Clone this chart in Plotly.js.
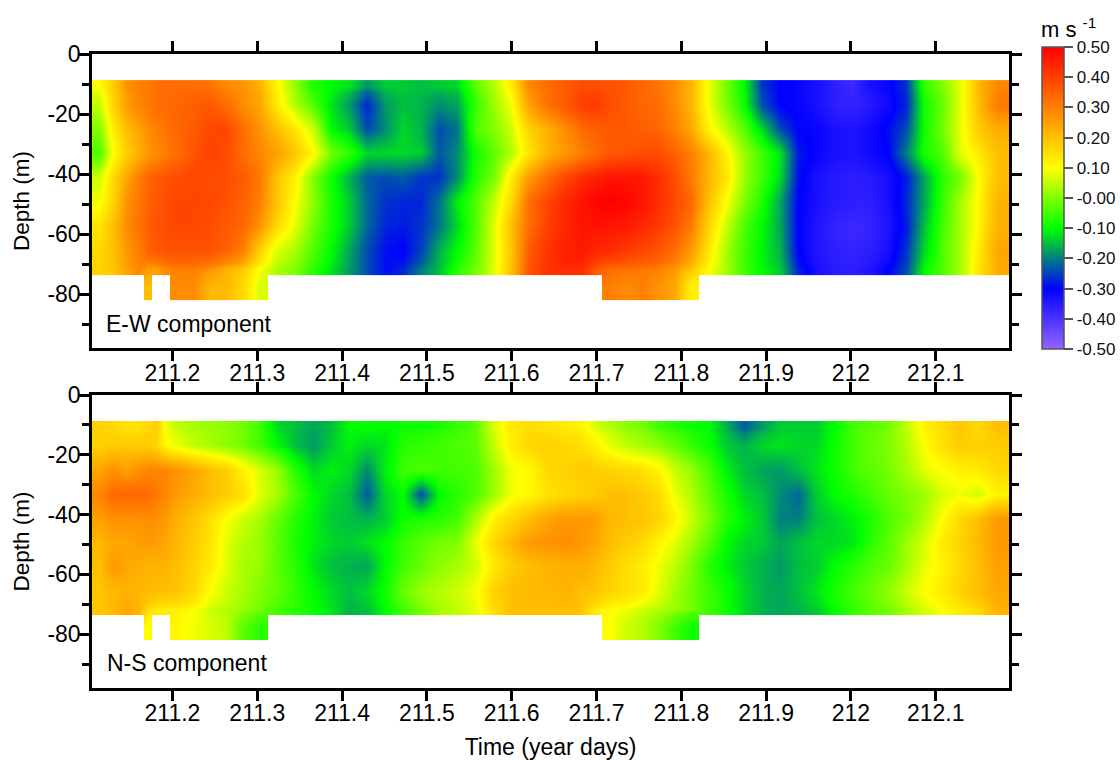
<!DOCTYPE html>
<html><head><meta charset="utf-8">
<script src="https://cdn.plot.ly/plotly-3.0.1.min.js"></script>
<style>html,body{margin:0;padding:0;background:#fff}#c{width:1120px;height:760px}</style>
</head><body><div id="c"></div>
<script>
const xEdges=[211.1051,211.1216,211.1381,211.1522,211.1664,211.1758,211.1864,211.1971,211.2159,211.2348,211.2537,211.2725,211.2926,211.3126,211.3338,211.3551,211.3763,211.3975,211.4188,211.44,211.4612,211.4824,211.5037,211.5249,211.5461,211.5673,211.5886,211.6098,211.631,211.6522,211.6735,211.69,211.7065,211.7254,211.7442,211.7631,211.782,211.8008,211.8209,211.8421,211.8633,211.8846,211.9058,211.927,211.9482,211.9695,211.9907,212.0119,212.0331,212.0544,212.0756,212.0968,212.118,212.1393,212.1605,212.1864];
const depthEdges=[-8.7,-12.8,-20.9,-29,-37,-45,-53,-61,-69.6,-73.7,-82];

const ew09=[.10,.18,.27,.30,.31,.32,.33,.33,.33,.32,.28,.27,.22,.11,.01,-.08,-.10,-.12,-.18,-.14,-.14,-.15,-.14,-.13,-.03,.04,.13,.29,.33,.36,.38,.38,.37,.36,.34,.32,.28,.22,.09,-.01,-.10,-.26,-.30,-.31,-.33,-.36,-.38,-.33,-.31,-.26,-.06,0,.08,.21,.29];
const ew17=[.05,.17,.25,.29,.31,.33,.33,.34,.35,.36,.33,.28,.24,.13,.04,-.04,-.12,-.18,-.27,-.18,-.15,-.16,-.19,-.17,-.06,.02,.09,.25,.32,.36,.40,.41,.38,.36,.34,.33,.28,.22,.09,0,-.09,-.24,-.30,-.31,-.33,-.36,-.37,-.35,-.32,-.27,-.09,-.02,.08,.20,.31];
const ew25=[0,.13,.2,.24,.28,.30,.32,.34,.36,.39,.39,.33,.27,.2,.14,.06,-.1,-.14,-.24,-.19,-.13,-.16,-.24,-.21,-.04,0,.06,.17,.22,.28,.33,.35,.36,.36,.35,.34,.30,.24,.12,.05,-.03,-.13,-.24,-.3,-.31,-.33,-.34,-.32,-.29,-.24,-.09,-.01,.08,.18,.23];
const ew33=[-.04,.1,.17,.22,.26,.28,.3,.33,.37,.4,.38,.33,.29,.25,.19,.11,-.01,-.06,-.13,-.13,-.13,-.14,-.23,-.19,-.09,-.03,.04,.14,.22,.26,.3,.33,.36,.37,.38,.38,.35,.3,.22,.12,.02,-.05,-.12,-.28,-.31,-.33,-.34,-.32,-.3,-.2,-.08,-.04,.08,.13,.2];
const ew41=[.06,.16,.24,.3,.34,.36,.37,.38,.39,.38,.38,.36,.31,.19,.12,0,-.09,-.16,-.23,-.24,-.23,-.26,-.26,-.19,-.07,-.01,.13,.26,.33,.39,.43,.45,.47,.47,.46,.43,.38,.31,.22,.14,.02,-.05,-.13,-.29,-.33,-.35,-.36,-.35,-.33,-.28,-.17,-.07,-.01,.1,.2];
const ew49=[.09,.17,.27,.31,.35,.36,.38,.39,.39,.39,.37,.35,.3,.19,.1,.01,-.08,-.14,-.22,-.26,-.27,-.27,-.21,-.11,-.04,.05,.16,.33,.39,.44,.47,.49,.5,.49,.47,.43,.39,.34,.2,.1,0,-.08,-.17,-.3,-.33,-.35,-.36,-.36,-.33,-.27,-.17,-.06,.03,.11,.22];
const ew57=[.14,.2,.28,.32,.35,.37,.38,.39,.39,.38,.36,.34,.27,.16,.08,-.01,-.08,-.14,-.22,-.27,-.28,-.26,-.21,-.13,-.04,.07,.2,.33,.4,.44,.47,.47,.47,.46,.44,.41,.37,.31,.17,.06,-.04,-.1,-.17,-.3,-.34,-.37,-.38,-.37,-.34,-.28,-.15,-.05,.03,.11,.22];
const ew65=[.16,.2,.26,.3,.35,.36,.37,.37,.37,.37,.35,.3,.17,.07,.03,-.04,-.1,-.17,-.24,-.29,-.3,-.25,-.16,-.1,-.03,.07,.19,.36,.42,.45,.46,.44,.43,.41,.39,.37,.33,.26,.14,.03,-.05,-.11,-.16,-.3,-.34,-.36,-.37,-.36,-.33,-.26,-.13,-.04,.03,.13,.24];
const ew73=[.17,.19,.24,.29,.25,.25,.28,.3,.3,.27,.22,.18,.1,.03,0,-.07,-.12,-.18,-.24,-.29,-.27,-.2,-.15,-.07,-.01,.07,.2,.37,.42,.43,.43,.36,.33,.32,.31,.3,.26,.19,.1,.03,-.05,-.1,-.14,-.27,-.33,-.35,-.36,-.34,-.3,-.24,-.1,-.04,.03,.14,.23];
const ew81=[null,null,null,null,.2,null,null,.28,.28,.21,.21,.16,.07,null,null,null,null,null,null,null,null,null,null,null,null,null,null,null,null,null,null,null,.3,.28,.3,.27,.24,.12,null,null,null,null,null,null,null,null,null,null,null,null,null,null,null,null,null];

const ns09=[.17,.16,.14,.14,.16,.18,.09,.05,.03,.02,.01,-.01,-.05,-.13,-.15,-.17,-.15,-.1,-.09,-.1,-.09,-.09,-.08,-.06,-.03,.07,.13,.15,.14,.13,.12,.07,.04,.01,-.01,-.05,-.07,-.09,-.1,-.16,-.23,-.18,-.14,-.14,-.14,-.1,-.05,-.03,-.01,.05,.12,.15,.19,.16,.2];
const ns17=[.17,.18,.18,.18,.18,.16,.11,.08,.05,.03,.01,-.01,-.05,-.1,-.15,-.18,-.14,-.11,-.13,-.12,-.07,-.06,-.05,-.04,-.03,.05,.13,.16,.17,.16,.15,.12,.08,.05,.03,.01,-.02,-.06,-.09,-.14,-.16,-.13,-.12,-.13,-.13,-.09,-.05,-.02,0,.04,.1,.15,.18,.17,.18];
const ns25=[.24,.27,.25,.27,.29,.29,.29,.27,.24,.2,.18,.12,.07,.02,-.07,-.13,-.11,-.13,-.19,-.11,-.05,-.04,-.05,-.05,-.04,.02,.09,.11,.16,.17,.18,.18,.17,.16,.15,.12,.06,.02,-.04,-.11,-.15,-.17,-.18,-.15,-.12,-.09,-.05,-.03,-.01,.03,.08,.1,.12,.13,.16];
const ns33=[.29,.34,.34,.34,.33,.31,.29,.25,.23,.2,.18,.15,.08,.03,-.04,-.1,-.13,-.15,-.23,-.13,-.1,-.24,-.1,-.07,-.04,.02,.09,.11,.14,.16,.17,.18,.2,.2,.18,.16,.09,.04,-.02,-.08,-.13,-.15,-.19,-.22,-.14,-.1,-.08,-.05,-.02,0,.02,.07,.09,.06,.12];
const ns41=[.25,.27,.27,.27,.28,.27,.26,.22,.19,.15,.1,.06,.03,-.02,-.07,-.11,-.14,-.15,-.16,-.14,-.09,-.08,-.07,-.05,.03,.12,.16,.2,.24,.26,.26,.25,.21,.2,.19,.17,.12,.06,0,-.07,-.11,-.14,-.2,-.2,-.15,-.13,-.11,-.08,-.04,-.01,.04,.1,.16,.2,.26];
const ns49=[.21,.24,.24,.25,.26,.25,.24,.21,.18,.14,.08,.04,.02,-.03,-.08,-.11,-.13,-.14,-.12,-.1,-.06,-.03,-.01,0,.08,.16,.21,.26,.27,.28,.26,.24,.2,.18,.16,.12,.08,.03,-.03,-.1,-.13,-.14,-.17,-.15,-.13,-.13,-.12,-.07,-.03,.02,.07,.13,.17,.21,.26];
const ns57=[.2,.26,.24,.23,.22,.22,.22,.2,.17,.13,.08,.03,.02,-.03,-.07,-.12,-.15,-.16,-.17,-.1,-.05,-.02,.01,.03,.06,.13,.18,.2,.22,.22,.23,.21,.18,.15,.13,.09,.05,0,-.07,-.11,-.14,-.16,-.18,-.15,-.14,-.1,-.07,-.04,-.02,.03,.08,.12,.16,.2,.25];
const ns65=[.19,.21,.22,.21,.21,.2,.2,.19,.16,.1,.06,.03,0,-.02,-.06,-.1,-.13,-.15,-.13,-.09,-.02,.02,.04,.06,.09,.17,.2,.21,.21,.22,.2,.19,.17,.15,.13,.08,.03,-.01,-.05,-.09,-.13,-.16,-.17,-.15,-.12,-.08,-.05,-.02,.01,.06,.1,.13,.17,.2,.24];
const ns73=[.19,.21,.24,.22,.15,.13,.13,.12,.1,.06,.04,.02,-.01,-.05,-.07,-.09,-.12,-.16,-.15,-.1,-.05,-.01,.03,.05,.08,.15,.2,.2,.2,.2,.19,.13,.1,.09,.06,.04,.02,-.01,-.05,-.09,-.13,-.16,-.17,-.16,-.14,-.1,-.06,-.03,-.01,.03,.07,.1,.13,.16,.22];
const ns81=[null,null,null,null,.1,null,null,.11,.09,.07,.05,-.03,-.07,null,null,null,null,null,null,null,null,null,null,null,null,null,null,null,null,null,null,null,.1,.06,.04,0,-.05,-.09,null,null,null,null,null,null,null,null,null,null,null,null,null,null,null,null,null];

const timeTicks=[211.2,211.3,211.4,211.5,211.6,211.7,211.8,211.9,212,212.1];
const timeLabels=["211.2","211.3","211.4","211.5","211.6","211.7","211.8","211.9","212","212.1"];
const depthTicks=[0,-20,-40,-60,-80];
const depthLabels=["0","-20","-40","-60","-80"];
const depthMinor=[-10,-30,-50,-70,-90];
const speedTicks=[0.5,0.4,0.3,0.2,0.1,0,-0.1,-0.2,-0.3,-0.4,-0.5];
const speedLabels=["0.50","0.40","0.30","0.20","0.10","-0.00","-0.10","-0.20","-0.30","-0.40","-0.50"];
const palette=[[0,"rgb(150,100,255)"],[0.2,"rgb(0,0,255)"],[0.3,"rgb(0,128,128)"],[0.4,"rgb(0,255,0)"],[0.6,"rgb(255,255,0)"],[1,"rgb(255,0,0)"]];

const FONT="Liberation Sans, Arial, sans-serif";
const W=1120,H=760;
const fx=p=>p/W, fy=p=>1-p/H;

const traces=[
 {type:"heatmap",x:xEdges,y:depthEdges,z:[ew09,ew17,ew25,ew33,ew41,ew49,ew57,ew65,ew73,ew81],zsmooth:"best",zmin:-0.5,zmax:0.5,colorscale:palette,xaxis:"x",yaxis:"y",
  colorbar:{x:fx(1042),xanchor:"left",y:fy(47),yanchor:"top",lenmode:"pixels",len:302,thicknessmode:"pixels",thickness:22,xpad:0,ypad:0,outlinecolor:"#555",outlinewidth:1.5,borderwidth:0,
   tickmode:"array",tickvals:speedTicks,ticktext:speedLabels,ticks:"outside",ticklen:9,tickwidth:1.5,tickcolor:"#555",tickfont:{family:FONT,size:17,color:"#111"}}},
 {type:"heatmap",x:xEdges,y:depthEdges,z:[ns09,ns17,ns25,ns33,ns41,ns49,ns57,ns65,ns73,ns81],zsmooth:"best",zmin:-0.5,zmax:0.5,colorscale:palette,xaxis:"x2",yaxis:"y2",showscale:false}
];
const xCommon={range:[211.1051,212.1864],tickmode:"array",tickvals:timeTicks,ticktext:timeLabels,ticks:"outside",ticklen:10,tickwidth:2.5,tickcolor:"#000",showline:true,linewidth:2.5,linecolor:"#000",mirror:"ticks",showgrid:false,zeroline:false,ticklabelstandoff:-7,tickfont:{family:FONT,size:23,color:"#000"}};
const yCommon={range:[-98,0],tickmode:"array",tickvals:depthTicks,ticktext:depthLabels,ticks:"outside",ticklen:10,tickwidth:2.5,tickcolor:"#000",showline:true,linewidth:2.5,linecolor:"#000",mirror:"ticks",showgrid:false,zeroline:false,ticklabelstandoff:-6,tickfont:{family:FONT,size:23,color:"#000"},
 minor:{tickmode:"array",tickvals:depthMinor,ticks:"outside",ticklen:7,tickwidth:2.5,tickcolor:"#000",showgrid:false},
 title:{text:"Depth (m)",font:{family:FONT,size:22.5,color:"#000"},standoff:12}};
const layout={
 width:W,height:H,margin:{l:0,r:0,t:0,b:0},paper_bgcolor:"#fff",plot_bgcolor:"#fff",showlegend:false,
 xaxis:Object.assign({},xCommon,{domain:[fx(92),fx(1009)],anchor:"y"}),
 yaxis:Object.assign({},yCommon,{domain:[fy(348),fy(54)],anchor:"x"}),
 xaxis2:Object.assign({},xCommon,{domain:[fx(92),fx(1009)],anchor:"y2",title:{text:"Time (year days)",font:{family:FONT,size:23,color:"#000"},standoff:17}}),
 yaxis2:Object.assign({},yCommon,{domain:[fy(688),fy(395)],anchor:"x2"}),
 annotations:[
  {xref:"paper",yref:"paper",x:fx(104),y:fy(324),xanchor:"left",yanchor:"middle",text:"E-W component",showarrow:false,font:{family:FONT,size:23,color:"#000"}},
  {xref:"paper",yref:"paper",x:fx(105),y:fy(663),xanchor:"left",yanchor:"middle",text:"N-S component",showarrow:false,font:{family:FONT,size:23,color:"#000"}},
  {xref:"paper",yref:"paper",x:fx(1039),y:fy(28),xanchor:"left",yanchor:"middle",text:"m s <sup>-1</sup>",showarrow:false,font:{family:FONT,size:22,color:"#000"}}
 ]
};
Plotly.newPlot("c",traces,layout,{displayModeBar:false,responsive:false});
</script></body></html>
